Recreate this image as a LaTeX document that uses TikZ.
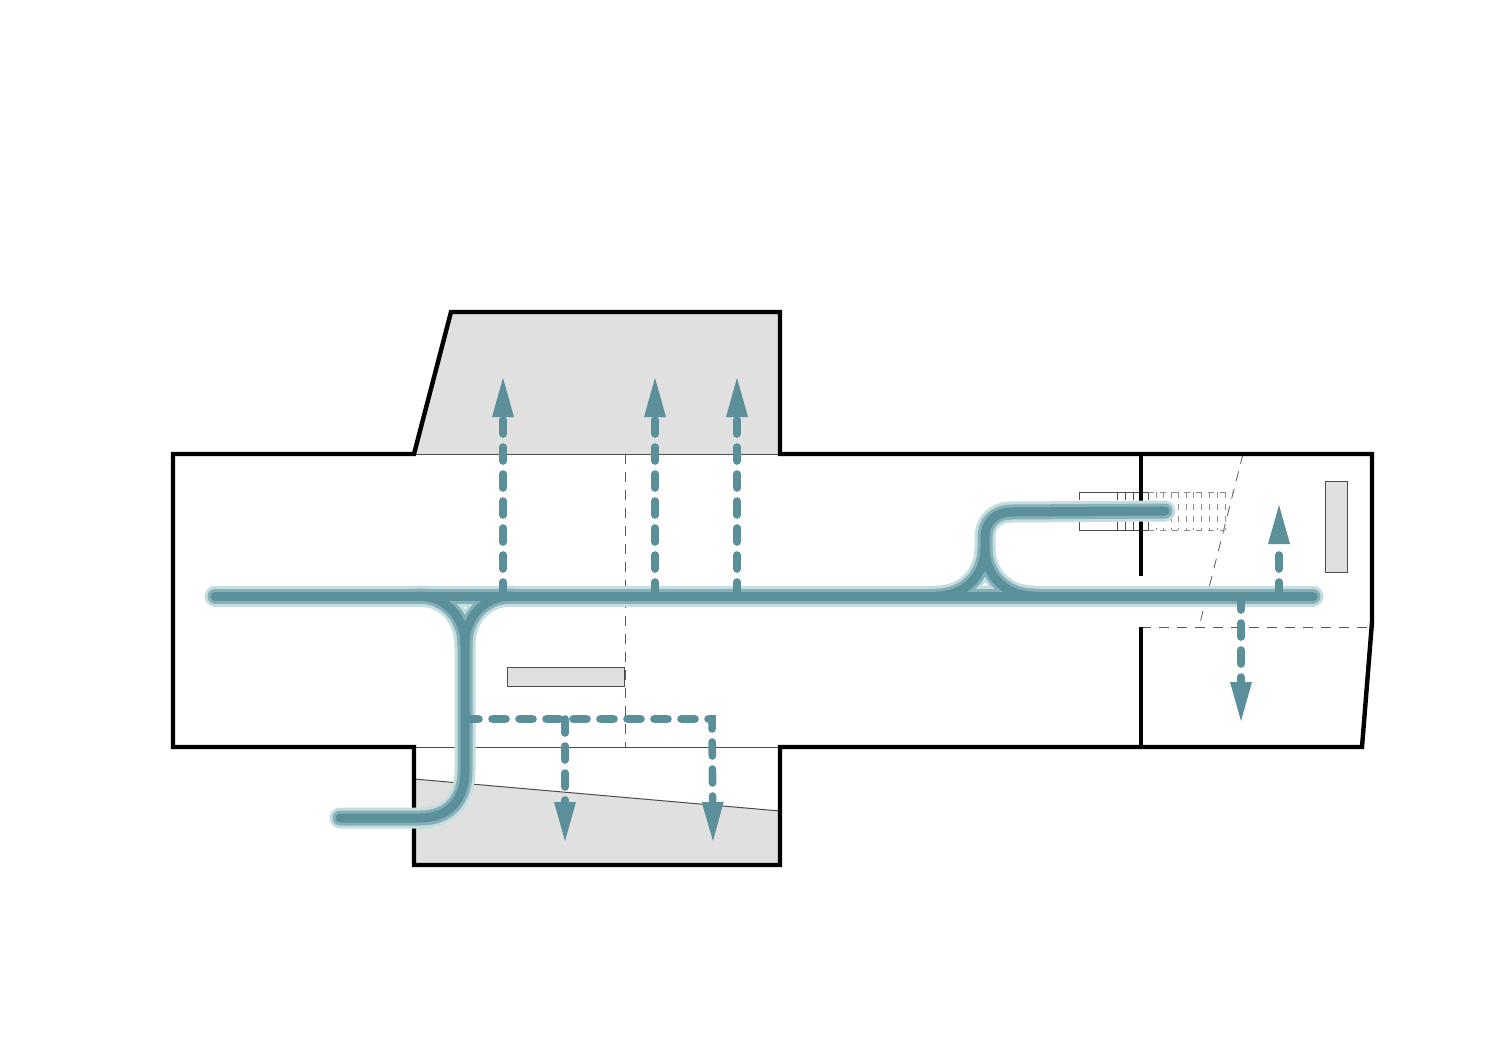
\documentclass[tikz,border=0pt]{standalone}
\usetikzlibrary{arrows.meta}
\definecolor{flowdark}{HTML}{5B8F99}
\definecolor{flowmid}{HTML}{84B0B7}
\definecolor{flowlight}{HTML}{C6DDE0}
\definecolor{roomgrey}{HTML}{E0E0E0}
\tikzset{
  wall/.style={line width=2.2pt,black,line join=miter},
  thin line/.style={line width=0.5pt,black!70},
  hidden line/.style={line width=0.4pt,black!65,dash pattern=on 5pt off 4pt},
  stair hidden/.style={line width=0.4pt,black!45,dash pattern=on 3pt off 3pt},
  exit/.style={line width=3.8pt,flowdark,line cap=round,dash pattern=on 7pt off 6.5pt},
  exit tip/.style={exit,-{Triangle[length=19.5pt,width=11pt,sep=0pt,line width=0pt,fill=flowdark]}},
}
\begin{document}
\begin{tikzpicture}[x=0.5pt,y=-0.5pt]
  \useasboundingbox[fill=white] (0,0) rectangle (1500,1060);
  % grey rooms
  \fill[roomgrey] (414,454) -- (451,312) -- (780,312) -- (780,454) -- cycle;
  \fill[roomgrey] (414,779) -- (780,811) -- (780,865) -- (414,865) -- cycle;
  \draw[thin line] (414,454) -- (780,454);
  \draw[thin line] (414,747) -- (780,747);
  \draw[thin line] (414,779) -- (780,811);
  \draw[thin line,fill=roomgrey] (507,667) rectangle (624,686);
  \draw[thin line,fill=roomgrey] (1325,481) rectangle (1347,572);
  % hidden lines
  \draw[hidden line] (625,454) -- (625,747);
  \draw[hidden line] (1141,627) -- (1372,627);
  \draw[hidden line] (1243,454) -- (1199,627);
  % stair
  \draw[thin line] (1148,492) -- (1079,492) -- (1079,500);
  \draw[thin line] (1148,530) -- (1079,530) -- (1079,522);
  \foreach \x in {1117,1125,1133,1148} {
    \draw[thin line] (\x,492) -- (\x,500);
    \draw[thin line] (\x,522) -- (\x,530);
  }
  \draw[stair hidden] (1148,492) -- (1233,492);
  \draw[stair hidden] (1148,530) -- (1225,530);
  \foreach \x in {1156,1163.5,1171,1178.5,1186,1193.5,1201.5,1209,1217,1225} {
    \draw[stair hidden] (\x,492) -- (\x,530);
  }
  % walls
  \draw[wall] (173,454) -- (414,454) -- (451,312) -- (780,312) -- (780,454)
    -- (1372,454) -- (1372,622) -- (1362,747) -- (780,747) -- (780,865)
    -- (414,865) -- (414,747) -- (173,747) -- cycle;
  \draw[wall] (1141,454) -- (1141,576);
  \draw[wall] (1141,627) -- (1141,747);
  % circulation
  \foreach \w/\c in {10.5pt/flowlight,7.5pt/flowmid,4.5pt/flowdark} {
    \draw[line width=\w,color=\c,line cap=round] (215,596) -- (1313,596);
    \draw[line width=\w,color=\c,line cap=round] (340,818) -- (420,818)
      .. controls (449,818) and (465,800) .. (465,770) -- (465,645)
      .. controls (465,618) and (447,596) .. (418,596);
    \draw[line width=\w,color=\c,line cap=round] (465,645)
      .. controls (465,618) and (483,596) .. (512,596);
    \draw[line width=\w,color=\c,line cap=round] (1165,511) -- (1012,512)
      .. controls (995,512) and (985,522) .. (985,538) -- (985,548)
      .. controls (985,576) and (964,596) .. (937,596);
    \draw[line width=\w,color=\c,line cap=round] (985,548)
      .. controls (985,576) and (1006,596) .. (1033,596);
  }
  % exits
  \foreach \x in {503,655,737} {
    \draw[exit tip] (\x,596) -- (\x,378);
  }
  \draw[exit tip] (1279,596) -- (1279,505);
  \draw[exit tip] (1241,596) -- (1241,721);
  \draw[exit tip] (465,719) -- (712,719) -- (713,841);
  \draw[exit tip] (565,719) -- (565,841);
\end{tikzpicture}
\end{document}
